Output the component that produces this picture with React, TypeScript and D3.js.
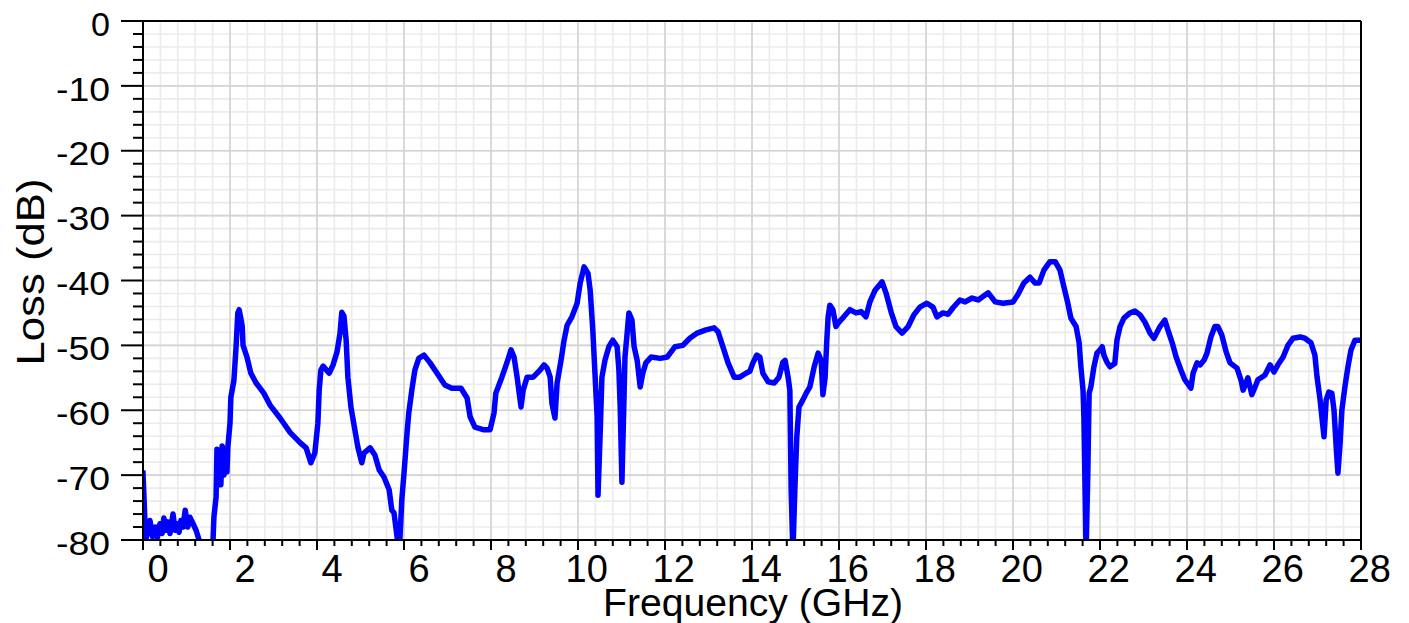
import React from 'react';
import * as d3 from 'd3';

const frequencyGHz = [
  0.00, 0.03, 0.06, 0.10, 0.16, 0.22, 0.28, 0.33, 0.39, 0.44, 0.48, 0.53, 0.57, 0.62, 0.69, 0.74, 0.78, 0.83, 0.87, 0.92,
  0.97, 1.03, 1.08, 1.15, 1.22, 1.29, 1.31, 1.59, 1.61, 1.63, 1.68, 1.70, 1.73, 1.75, 1.79, 1.82, 1.86, 1.89, 1.93, 1.95,
  2.00, 2.02, 2.09, 2.14, 2.18, 2.21, 2.24, 2.28, 2.30, 2.39, 2.48, 2.60, 2.78, 2.92, 3.15, 3.38, 3.61, 3.75, 3.86, 3.95,
  4.02, 4.05, 4.09, 4.14, 4.28, 4.37, 4.46, 4.53, 4.57, 4.62, 4.67, 4.71, 4.78, 4.87, 4.94, 5.03, 5.08, 5.22, 5.33, 5.43,
  5.54, 5.66, 5.72, 5.77, 5.84, 5.89, 5.95, 6.00, 6.07, 6.11, 6.18, 6.25, 6.34, 6.46, 6.60, 6.76, 6.94, 7.10, 7.31, 7.45,
  7.52, 7.63, 7.82, 7.98, 8.07, 8.11, 8.25, 8.37, 8.46, 8.53, 8.60, 8.69, 8.74, 8.83, 8.97, 9.13, 9.22, 9.29, 9.36, 9.40,
  9.47, 9.52, 9.61, 9.68, 9.75, 9.86, 9.98, 10.05, 10.14, 10.23, 10.28, 10.34, 10.39, 10.44, 10.46, 10.51, 10.55, 10.62, 10.71, 10.80,
  10.90, 10.94, 10.97, 11.01, 11.06, 11.08, 11.13, 11.17, 11.24, 11.29, 11.36, 11.43, 11.49, 11.56, 11.68, 11.89, 12.05, 12.23, 12.41, 12.57,
  12.74, 12.94, 13.13, 13.22, 13.33, 13.45, 13.59, 13.72, 13.86, 13.95, 14.02, 14.11, 14.18, 14.25, 14.37, 14.51, 14.62, 14.71, 14.76, 14.83,
  14.87, 14.90, 14.94, 14.99, 15.03, 15.08, 15.17, 15.26, 15.33, 15.43, 15.52, 15.59, 15.63, 15.68, 15.72, 15.75, 15.79, 15.86, 15.93, 16.00,
  16.11, 16.25, 16.39, 16.51, 16.62, 16.71, 16.83, 16.99, 17.08, 17.20, 17.31, 17.45, 17.59, 17.72, 17.86, 18.02, 18.16, 18.25, 18.39, 18.51,
  18.62, 18.78, 18.90, 19.06, 19.20, 19.43, 19.59, 19.77, 20.00, 20.11, 20.25, 20.39, 20.51, 20.60, 20.71, 20.85, 20.97, 21.08, 21.17, 21.26,
  21.33, 21.45, 21.52, 21.56, 21.61, 21.63, 21.68, 21.72, 21.75, 21.79, 21.86, 21.93, 22.00, 22.05, 22.09, 22.16, 22.23, 22.34, 22.39, 22.46,
  22.55, 22.69, 22.80, 22.92, 23.03, 23.15, 23.24, 23.38, 23.49, 23.56, 23.66, 23.75, 23.86, 23.95, 24.09, 24.14, 24.23, 24.30, 24.39, 24.46,
  24.55, 24.64, 24.71, 24.80, 24.90, 24.99, 25.15, 25.24, 25.29, 25.40, 25.49, 25.56, 25.63, 25.79, 25.91, 26.00, 26.09, 26.21, 26.32, 26.44,
  26.60, 26.71, 26.85, 26.94, 26.99, 27.06, 27.10, 27.15, 27.20, 27.26, 27.33, 27.38, 27.43, 27.47, 27.52, 27.56, 27.63, 27.70, 27.77, 27.86,
  28.00,
];

const lossDb = [
  -69.7, -74.6, -80, -79, -77, -79.5, -78, -79.6, -77.5, -79, -76.6, -78.5, -77.2, -79, -76, -78.5, -77.5, -78.8, -77, -78,
  -75.4, -78, -76.5, -77.5, -78.5, -80, -85, -85, -80, -76.5, -73.4, -66, -71, -66.5, -71.5, -65.5, -70, -66, -69.5, -65.7,
  -62, -58, -55.4, -50.2, -45, -44.5, -45.5, -47, -50, -51.8, -54.3, -55.8, -57.4, -59.2, -61.2, -63.4, -65, -65.8, -68.1, -66.6,
  -62, -56.9, -53.8, -53.2, -54.3, -53, -51, -48.1, -44.9, -45.5, -49.2, -54.9, -59.5, -63, -65.7, -68.1, -66.6, -65.8, -66.9, -69.2,
  -70.3, -72.3, -75.4, -75.8, -79.5, -82, -73.8, -69.7, -63.5, -60.4, -56.9, -53.8, -52, -51.5, -52.7, -54.3, -56.1, -56.6, -56.6, -58.1,
  -61, -62.6, -63, -63, -60.4, -57.4, -54.9, -52.6, -50.7, -51.8, -54.9, -59.5, -56.9, -54.9, -54.9, -53.8, -53, -53.5, -54.9, -58.9,
  -61.2, -55.8, -52.3, -49.2, -46.9, -45.6, -43.5, -40.4, -37.9, -38.9, -41.5, -47.6, -54.3, -61, -73.1, -63.5, -54.9, -52.3, -50.2, -49.2,
  -50.2, -53.8, -59.5, -71.1, -57.4, -51.8, -48.1, -45, -46.1, -50.2, -52.3, -56.4, -54.3, -52.7, -51.8, -52, -51.8, -50.2, -50, -48.9,
  -48.1, -47.6, -47.3, -47.9, -50.2, -52.7, -54.9, -54.9, -54.3, -54, -52.7, -51.5, -51.8, -54.3, -55.6, -55.8, -54.9, -52.6, -52.3, -54.9,
  -56.9, -72.3, -82, -71.2, -64.1, -59.5, -58.4, -57.2, -56.4, -53.3, -51.2, -52.3, -57.6, -55, -49.2, -45.6, -43.8, -44.5, -47.1, -46.4,
  -45.6, -44.5, -45, -44.8, -45.6, -43.3, -41.5, -40.2, -41.9, -44.9, -47.1, -48.1, -47.1, -45.3, -44.1, -43.5, -44.1, -45.6, -45, -45.2,
  -44.2, -43, -43.3, -42.7, -43, -41.9, -43.3, -43.5, -43.3, -42.2, -40.4, -39.5, -40.4, -40.4, -38.4, -37.1, -37.1, -38.4, -41, -43.5,
  -45.8, -47.1, -49.6, -53.3, -56.9, -61, -82, -69.7, -57.4, -56.4, -53.3, -51.2, -50.7, -50.2, -51.5, -52.6, -53.3, -52.8, -49.2, -47.1,
  -45.8, -45, -44.7, -45.3, -46.4, -48.1, -48.9, -47.1, -46.1, -47.6, -49.6, -51.8, -53.8, -55.3, -56.6, -54.3, -52.7, -53, -52.3, -51.2,
  -48.7, -47.1, -47.1, -48.4, -51, -52.7, -53.5, -55.3, -56.9, -55, -57.6, -56.5, -55.3, -54.6, -53, -54.1, -53, -51.8, -50, -48.9,
  -48.7, -48.9, -49.6, -51.5, -54.9, -58.4, -61, -64.1, -58.4, -57.2, -57.4, -60, -65.7, -69.7, -65, -60, -56.4, -53.3, -50.7, -49.2,
  -49.2,
];

const xTickValues = [0, 2, 4, 6, 8, 10, 12, 14, 16, 18, 20, 22, 24, 26, 28];
const yTickValues = [0, -10, -20, -30, -40, -50, -60, -70, -80];
const xAxisTitle = 'Frequency (GHz)';
const yAxisTitle = 'Loss (dB)';

export default function App() {
  const W = 1409;
  const H = 623;
  const L = 143, R = 1361, T = 21, B = 540;
  const x = d3.scaleLinear().domain([0, 28]).range([L, R]);
  const y = d3.scaleLinear().domain([-80, 0]).range([B, T]);

  const xMinor = d3.range(0, 70 + 1).map((i) => i * 0.4);
  const yMinor = d3.range(-80, 0.0001, 2);

  const points: [number, number][] = frequencyGHz.map((f, i) => [f, lossDb[i]]);
  const line = d3
    .line<[number, number]>()
    .x((d) => x(d[0]))
    .y((d) => y(d[1]));

  const font = 'Arial, "Liberation Sans", Helvetica, sans-serif';
  const yLabelLen = (v: number) => (v < 0 ? 16 : 0) + 19 * String(Math.abs(v)).length;

  return (
    <svg
      width={W}
      height={H}
      viewBox={`0 0 ${W} ${H}`}
      style={{ position: 'absolute', left: 0, top: 0, background: '#fff' }}
    >
      <defs>
        <clipPath id="plotClip">
          <rect x={L} y={T} width={R - L} height={B - T} />
        </clipPath>
      </defs>
      <rect x={0} y={0} width={W} height={H} fill="#fff" />
      {/* minor grid */}
      <g stroke="#ebebeb" strokeWidth={1.6}>
        {xMinor.map((v, i) => (
          <line key={'xm' + i} x1={x(v)} x2={x(v)} y1={T} y2={B} />
        ))}
        {yMinor.map((v) => (
          <line key={'ym' + v} x1={L} x2={R} y1={y(v)} y2={y(v)} />
        ))}
      </g>
      {/* major grid */}
      <g stroke="#d4d4d4" strokeWidth={1.6}>
        {xTickValues.map((v) => (
          <line key={'xg' + v} x1={x(v)} x2={x(v)} y1={T} y2={B} />
        ))}
        {yTickValues.map((v) => (
          <line key={'yg' + v} x1={L} x2={R} y1={y(v)} y2={y(v)} />
        ))}
      </g>
      {/* data line */}
      <g clipPath="url(#plotClip)">
        <path
          d={line(points) || ''}
          fill="none"
          stroke="#0000ff"
          strokeWidth={5.5}
          strokeLinejoin="round"
          strokeLinecap="square"
        />
      </g>
      {/* frame */}
      <g stroke="#000" strokeWidth={2} fill="none">
        <line x1={L} x2={R} y1={T} y2={T} />
        <line x1={R} x2={R} y1={T} y2={B} />
        <line x1={L} x2={R + 1} y1={B} y2={B} />
        <line x1={L} x2={L} y1={T - 1} y2={B + 1} />
      </g>
      {/* ticks */}
      <g stroke="#000" strokeWidth={2}>
        {yMinor.map((v) => (
          <line key={'yt' + v} x1={v % 10 === 0 ? L - 22 : L - 10} x2={L} y1={y(v)} y2={y(v)} />
        ))}
        {xMinor.map((v, i) => (
          <line key={'xt' + i} x1={x(v)} x2={x(v)} y1={B} y2={i % 5 === 0 ? B + 10 : B + 6} />
        ))}
      </g>
      {/* y labels */}
      <g fontFamily={font} fontSize={34} fill="#000" textAnchor="end">
        {yTickValues.map((v) => (
          <text
            key={'yl' + v}
            x={110}
            y={y(v) + 14.7}
            textLength={yLabelLen(v)}
            lengthAdjust="spacingAndGlyphs"
          >
            {String(v)}
          </text>
        ))}
      </g>
      {/* x labels */}
      <g fontFamily={font} fontSize={38} fill="#000" textAnchor="middle">
        {xTickValues.map((v) => (
          <text key={'xl' + v} x={x(v) + (v < 10 ? 15 : 8.7)} y={582}>
            {String(v)}
          </text>
        ))}
      </g>
      <text
        x={753}
        y={616}
        fontFamily={font}
        fontSize={38}
        textAnchor="middle"
        fill="#000"
        textLength={300}
        lengthAdjust="spacingAndGlyphs"
      >
        {xAxisTitle}
      </text>
      <text
        transform={`translate(44, 272) rotate(-90)`}
        fontFamily={font}
        fontSize={38}
        textAnchor="middle"
        fill="#000"
        textLength={187}
        lengthAdjust="spacingAndGlyphs"
      >
        {yAxisTitle}
      </text>
    </svg>
  );
}
